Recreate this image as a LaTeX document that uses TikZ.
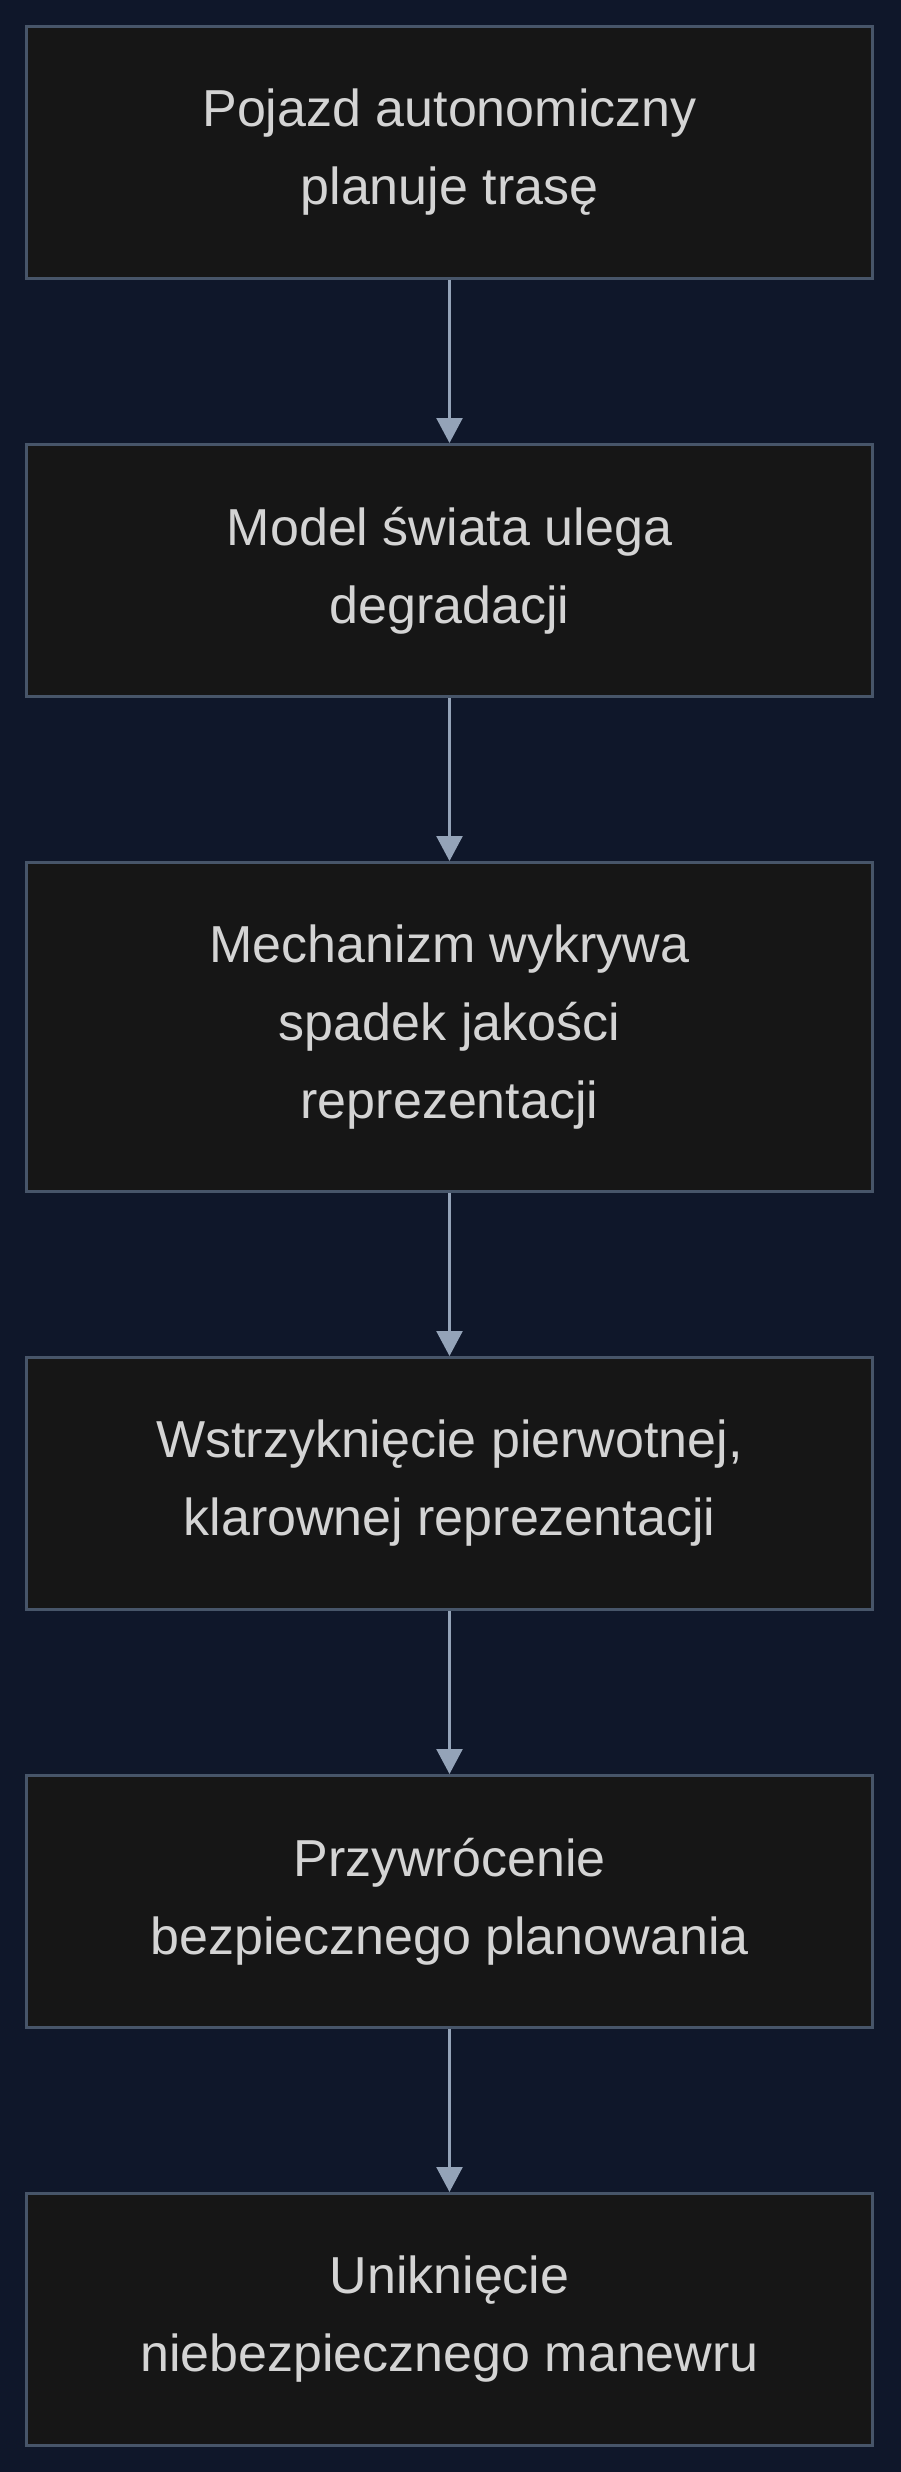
\documentclass[tikz,border=0pt]{standalone}
\usepackage{fontspec}
\setmainfont{Liberation Sans}
\usetikzlibrary{positioning,arrows.meta}

\definecolor{bgc}{HTML}{0F172A}
\definecolor{boxfill}{HTML}{161616}
\definecolor{boxline}{HTML}{475569}
\definecolor{arrowc}{HTML}{94A3B8}
\definecolor{txtc}{HTML}{D4D4D4}

\tikzset{
    flowbox/.style={draw=boxline, line width=3pt, fill=boxfill, text=txtc,
        minimum width=846pt, minimum height=252pt, align=center,
        font=\fontsize{52}{78}\selectfont},
    tallbox/.style={flowbox, minimum height=329pt},
    flowarrow/.style={draw=arrowc, line width=2.5pt,
        -{Triangle[width=26pt, length=25pt]}}
}

\begin{document}
\begin{tikzpicture}[x=1pt, y=1pt]
        \useasboundingbox (0, 0) rectangle (900, -2472);
        \fill[bgc] (-2, 2) rectangle (902, -2474);
        \node[flowbox] (plan) at (449.5, -152.5) {Pojazd autonomiczny\\planuje trasę};
        \node[flowbox, below=163pt of plan] (degr) {Model świata ulega\\degradacji};
        \node[tallbox, below=163pt of degr] (detect) {Mechanizm wykrywa\\spadek jakości\\reprezentacji};
        \node[flowbox, below=163pt of detect] (inject) {Wstrzyknięcie pierwotnej,\\klarownej reprezentacji};
        \node[flowbox, below=163pt of inject] (restore) {Przywrócenie\\bezpiecznego planowania};
        \node[flowbox, below=163pt of restore] (avoid) {Uniknięcie\\niebezpiecznego manewru};
        \draw[flowarrow] (plan) -- (degr);
        \draw[flowarrow] (degr) -- (detect);
        \draw[flowarrow] (detect) -- (inject);
        \draw[flowarrow] (inject) -- (restore);
        \draw[flowarrow] (restore) -- (avoid);
    \end{tikzpicture}
\end{document}
